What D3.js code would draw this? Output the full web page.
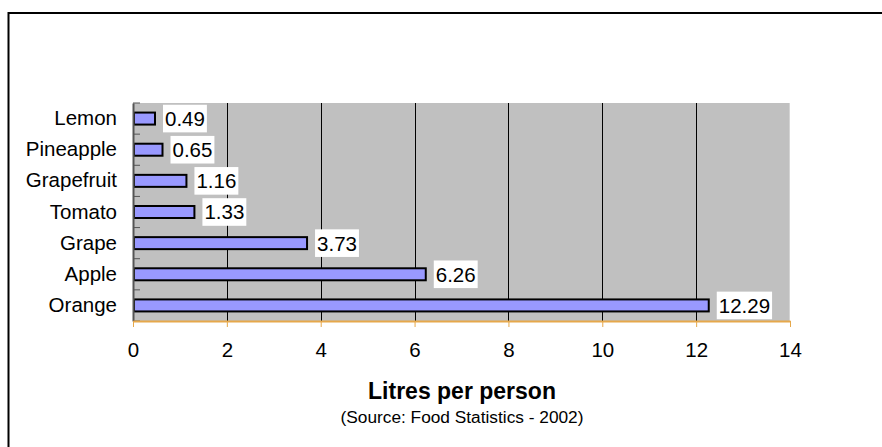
<!DOCTYPE html>
<html>
<head>
<meta charset="utf-8">
<script src="https://cdn.jsdelivr.net/npm/d3@7"></script>
<style>
  html, body { margin: 0; padding: 0; background: #fff; }
  svg { display: block; font-family: Arial, "Liberation Sans", sans-serif; }
</style>
</head>
<body>
<svg id="chart" width="882" height="447"></svg>
<script>
// Juice consumption per person, by fruit
const fruits = ["Lemon", "Pineapple", "Grapefruit", "Tomato", "Grape", "Apple", "Orange"];
const litres = [0.49, 0.65, 1.16, 1.33, 3.73, 6.26, 12.29];
const xTicks = [0, 2, 4, 6, 8, 10, 12, 14];
const axisTitle = "Litres per person";
const sourceNote = "(Source: Food Statistics - 2002)";

const svg = d3.select("#chart");
const plot = { left: 133, right: 790, top: 103, bottom: 321 };

// Outer frame (runs off the right and bottom edges)
svg.append("rect")
  .attr("x", 8.5).attr("y", 13)
  .attr("width", 900).attr("height", 460)
  .attr("fill", "#fff").attr("stroke", "#000").attr("stroke-width", 2);

const x = d3.scaleLinear().domain([0, 14]).range([plot.left, plot.right]);
const y = d3.scaleBand().domain(fruits).range([plot.top, plot.bottom]);

// Plot background
svg.append("rect")
  .attr("x", plot.left).attr("y", plot.top)
  .attr("width", plot.right - plot.left).attr("height", plot.bottom - plot.top)
  .attr("fill", "#c0c0c0");
svg.append("line")
  .attr("x1", plot.right - 0.5).attr("x2", plot.right - 0.5)
  .attr("y1", plot.top).attr("y2", plot.bottom)
  .attr("stroke", "#d4d4d4").attr("stroke-width", 1);

// Vertical gridlines
svg.append("g")
  .selectAll("line")
  .data(xTicks.filter(t => t > 0 && t < 14))
  .join("line")
  .attr("x1", d => Math.round(x(d)) + 0.5).attr("x2", d => Math.round(x(d)) + 0.5)
  .attr("y1", plot.top).attr("y2", plot.bottom)
  .attr("stroke", "#000").attr("stroke-width", 1);

// Bars
const barH = 12;
svg.append("g")
  .selectAll("rect")
  .data(fruits)
  .join("rect")
  .attr("x", x(0) + 1)
  .attr("y", d => y(d) + y.bandwidth() / 2 - barH / 2)
  .attr("width", (d, i) => x(litres[i]) - x(0) - 2)
  .attr("height", barH)
  .attr("fill", "#9999ff")
  .attr("stroke", "#000")
  .attr("stroke-width", 2);

// Value labels on white boxes
const labelFont = 20.5;
const labels = svg.append("g")
  .selectAll("g")
  .data(fruits)
  .join("g")
  .attr("transform", (d, i) => `translate(${x(litres[i]) + 7},${y(d) + y.bandwidth() / 2})`);
labels.append("text")
  .attr("x", 2)
  .attr("dy", "0.36em")
  .attr("font-size", labelFont)
  .attr("fill", "#000")
  .text((d, i) => litres[i].toFixed(2));
labels.each(function () {
  const g = d3.select(this);
  const bb = g.select("text").node().getBBox();
  g.insert("rect", "text")
    .attr("x", 0).attr("y", -13.8)
    .attr("width", bb.width + 4).attr("height", 27.6)
    .attr("fill", "#fff");
});

// Left (category) axis
const yAxis = svg.append("g")
  .attr("transform", `translate(${plot.left},0)`)
  .call(d3.axisLeft(y).tickSize(0).tickPadding(16).tickSizeOuter(0));
yAxis.select(".domain").attr("stroke", "#555").attr("stroke-width", 2);
yAxis.selectAll("text").attr("font-size", labelFont).attr("fill", "#000")
  .attr("font-family", "Arial, 'Liberation Sans', sans-serif");
// inward ticks at band boundaries
yAxis.append("g")
  .selectAll("line")
  .data(d3.range(fruits.length + 1))
  .join("line")
  .attr("x1", 0).attr("x2", 7)
  .attr("y1", i => plot.top + i * y.step())
  .attr("y2", i => plot.top + i * y.step())
  .attr("stroke", "#555").attr("stroke-width", 1);

// Bottom (value) axis
const xAxis = svg.append("g")
  .attr("transform", `translate(0,${plot.bottom})`)
  .call(d3.axisBottom(x).tickValues(xTicks).tickSize(6).tickPadding(15).tickSizeOuter(0));
xAxis.select(".domain").attr("stroke", "#e6a84b").attr("stroke-width", 2);
xAxis.selectAll(".tick line").attr("stroke", "#e6a84b");
xAxis.selectAll("text").attr("font-size", labelFont).attr("fill", "#000")
  .attr("font-family", "Arial, 'Liberation Sans', sans-serif");

// Axis title and source note
svg.append("text")
  .attr("x", 462).attr("y", 399)
  .attr("text-anchor", "middle")
  .attr("font-size", 23).attr("font-weight", "bold")
  .text(axisTitle);
svg.append("text")
  .attr("x", 462).attr("y", 423)
  .attr("text-anchor", "middle")
  .attr("font-size", 17.3)
  .text(sourceNote);
</script>
</body>
</html>
